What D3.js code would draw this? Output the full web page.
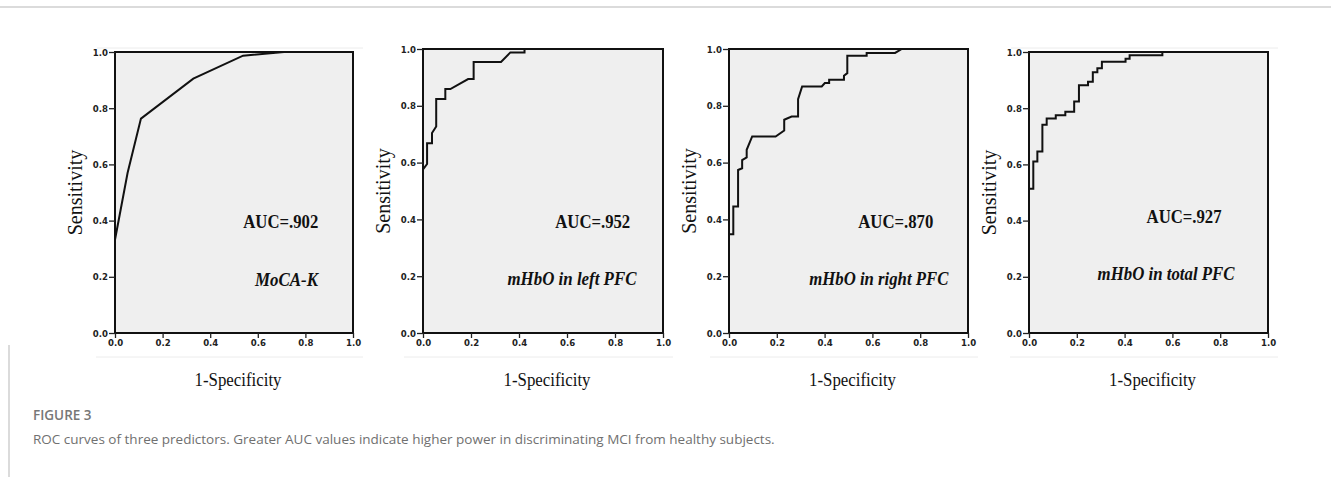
<!DOCTYPE html>
<html>
  <head>
    <title>ROC curves</title>
    <meta charset="utf-8" />
    <script src="https://d3js.org/d3.v7.min.js"></script>
    <style>
      body { margin: 0; background: #fff; }
    </style>
  </head>
  <body>
    <svg id="chart" width="1331" height="477"></svg>

    <script>
      // Datos
      const predictorNames = ["MoCA-K", "mHbO in left PFC", "mHbO in right PFC", "mHbO in total PFC"];
      const aucLabels = ["AUC=.902", "AUC=.952", "AUC=.870", "AUC=.927"];
      const tickValues = [0, 0.2, 0.4, 0.6, 0.8, 1.0];
      const xTitle = "1-Specificity";
      const yTitle = "Sensitivity";
      const figureLabel = "FIGURE 3";
      const captionText = "ROC curves of three predictors. Greater AUC values indicate higher power in discriminating MCI from healthy subjects.";

      const mocaFpr = [0, 0, 0.053, 0.109, 0.329, 0.538, 0.71, 1];
      const mocaTpr = [0, 0.332, 0.57, 0.763, 0.905, 0.987, 1, 1];

      const leftFpr = [0, 0, 0.017, 0.017, 0.0375, 0.0375, 0.055, 0.055, 0.093, 0.093, 0.114, 0.188, 0.211, 0.211, 0.325, 0.364, 0.423, 0.423, 1];
      const leftTpr = [0, 0.576, 0.595, 0.668, 0.668, 0.704, 0.727, 0.824, 0.824, 0.859, 0.859, 0.894, 0.894, 0.954, 0.954, 0.988, 0.988, 1, 1];

      const rightFpr = [0, 0, 0.018, 0.018, 0.038, 0.038, 0.055, 0.055, 0.074, 0.074, 0.097, 0.195, 0.231, 0.231, 0.262, 0.289, 0.289, 0.306, 0.388, 0.401, 0.419, 0.419, 0.481, 0.481, 0.495, 0.495, 0.576, 0.576, 0.695, 0.723, 1];
      const rightTpr = [0, 0.348, 0.348, 0.445, 0.445, 0.574, 0.58, 0.609, 0.618, 0.645, 0.692, 0.692, 0.713, 0.751, 0.762, 0.762, 0.823, 0.868, 0.868, 0.88, 0.88, 0.892, 0.892, 0.906, 0.915, 0.976, 0.976, 0.986, 0.986, 1, 1];

      const totalFpr = [0, 0, 0.018, 0.018, 0.035, 0.035, 0.056, 0.056, 0.074, 0.074, 0.112, 0.112, 0.152, 0.152, 0.189, 0.189, 0.209, 0.209, 0.247, 0.247, 0.267, 0.267, 0.286, 0.286, 0.305, 0.305, 0.404, 0.404, 0.421, 0.421, 0.558, 0.558, 1];
      const totalTpr = [0, 0.513, 0.513, 0.61, 0.61, 0.646, 0.646, 0.741, 0.741, 0.763, 0.763, 0.775, 0.775, 0.787, 0.787, 0.824, 0.824, 0.882, 0.882, 0.894, 0.894, 0.928, 0.928, 0.942, 0.942, 0.965, 0.965, 0.976, 0.976, 0.988, 0.988, 1, 1];

      const fprSeries = [mocaFpr, leftFpr, rightFpr, totalFpr];
      const tprSeries = [mocaTpr, leftTpr, rightTpr, totalTpr];

      // Posición de cada panel en píxeles
      const layout = [
        { left: 115, right: 353, top: 52, bottom: 333, aucX: 0.539, aucY: 0.374, nameX: 0.588, nameY: 0.167, nameW: 63 },
        { left: 423, right: 663, top: 49, bottom: 333, aucX: 0.551, aucY: 0.37, nameX: 0.352, nameY: 0.168, nameW: 129 },
        { left: 729, right: 968, top: 49, bottom: 333, aucX: 0.541, aucY: 0.37, nameX: 0.336, nameY: 0.168, nameW: 139 },
        { left: 1029, right: 1268, top: 52, bottom: 333, aucX: 0.492, aucY: 0.392, nameX: 0.287, nameY: 0.188, nameW: 137 }
      ];

      const svg = d3.select("#chart");
      const serif = "'Liberation Serif', 'Times New Roman', serif";
      const narrow = "'Liberation Sans Narrow', 'Arial Narrow', 'DejaVu Sans Condensed', sans-serif";

      // Marco de la página
      svg.append("line")
        .attr("x1", 0).attr("x2", 1331).attr("y1", 7).attr("y2", 7)
        .attr("stroke", "#cfcfcf").attr("stroke-width", 1.5);
      svg.append("line")
        .attr("x1", 9).attr("x2", 9).attr("y1", 345).attr("y2", 477)
        .attr("stroke", "#cfcfcf").attr("stroke-width", 1.5);

      layout.forEach((p, i) => {
        const x = d3.scaleLinear().domain([0, 1]).range([p.left, p.right]);
        const y = d3.scaleLinear().domain([0, 1]).range([p.bottom, p.top]);
        const g = svg.append("g");

        // líneas tenues del recorte original
        g.append("line")
          .attr("x1", p.left - 19).attr("x2", p.right + 10)
          .attr("y1", 357).attr("y2", 357)
          .attr("stroke", "#ececec").attr("stroke-width", 1);
        if (i === 0 || i === 3) {
          g.append("line")
            .attr("x1", p.left - 18).attr("x2", p.right + 10)
            .attr("y1", 48).attr("y2", 48)
            .attr("stroke", "#ececec").attr("stroke-width", 1);
        }

        // fondo del área
        g.append("rect")
          .attr("x", x(0)).attr("y", y(1))
          .attr("width", x(1) - x(0)).attr("height", y(0) - y(1))
          .attr("fill", "#efefef");

        // curva ROC
        const pts = fprSeries[i].map((f, k) => [f, tprSeries[i][k]]);
        const line = d3.line().x((d) => x(d[0])).y((d) => y(d[1]));
        g.append("path")
          .datum(pts)
          .attr("fill", "none")
          .attr("stroke", "#111")
          .attr("stroke-width", 2)
          .attr("d", line);

        // marco
        g.append("rect")
          .attr("x", x(0)).attr("y", y(1))
          .attr("width", x(1) - x(0)).attr("height", y(0) - y(1))
          .attr("fill", "none")
          .attr("stroke", "#111")
          .attr("stroke-width", 2);

        // ejes
        const xAxis = d3.axisBottom(x).tickValues(tickValues).tickFormat(d3.format(".1f")).tickSize(5).tickPadding(1);
        const yAxis = d3.axisLeft(y).tickValues(tickValues).tickFormat(d3.format(".1f")).tickSize(6).tickPadding(1);

        const gx = g.append("g").attr("transform", `translate(0,${p.bottom})`).call(xAxis);
        const gy = g.append("g").attr("transform", `translate(${p.left},0)`).call(yAxis);
        [gx, gy].forEach((ax) => {
          ax.select(".domain").remove();
          ax.selectAll("line").attr("stroke", "#222").attr("stroke-width", 1.3);
          ax.selectAll("text")
            .attr("fill", "#222")
            .style("font-family", narrow)
            .style("font-weight", "bold")
            .style("font-size", "9.5px");
        });

        // títulos de ejes
        g.append("text")
          .attr("x", (p.left + p.right) / 2 + 4)
          .attr("y", 386)
          .attr("text-anchor", "middle")
          .attr("textLength", 87)
          .attr("lengthAdjust", "spacingAndGlyphs")
          .style("font-family", serif)
          .style("font-size", "19px")
          .attr("fill", "#111")
          .text(xTitle);

        g.append("text")
          .attr("transform", `translate(${p.left - 33},${(p.top + p.bottom) / 2}) rotate(-90)`)
          .attr("text-anchor", "middle")
          .style("font-family", serif)
          .style("font-size", "20px")
          .attr("fill", "#111")
          .text(yTitle);

        // anotaciones
        g.append("text")
          .attr("x", x(p.aucX)).attr("y", y(p.aucY))
          .attr("textLength", 75)
          .attr("lengthAdjust", "spacingAndGlyphs")
          .style("font-family", serif)
          .style("font-weight", "bold")
          .style("font-size", "19px")
          .attr("fill", "#111")
          .text(aucLabels[i]);

        g.append("text")
          .attr("x", x(p.nameX)).attr("y", y(p.nameY))
          .attr("textLength", p.nameW)
          .attr("lengthAdjust", "spacingAndGlyphs")
          .style("font-family", serif)
          .style("font-weight", "bold")
          .style("font-style", "italic")
          .style("font-size", "19px")
          .attr("fill", "#111")
          .text(predictorNames[i]);
      });

      // pie de figura
      svg.append("text")
        .attr("x", 33).attr("y", 420)
        .style("font-family", "'Open Sans', sans-serif")
        .style("font-weight", 600)
        .style("font-size", "13.5px")
        .attr("fill", "#777")
        .text(figureLabel);

      svg.append("text")
        .attr("x", 33).attr("y", 444)
        .style("font-family", "'Open Sans', sans-serif")
        .style("font-size", "13.5px")
        .attr("fill", "#707070")
        .text(captionText);
    </script>
  </body>
</html>
